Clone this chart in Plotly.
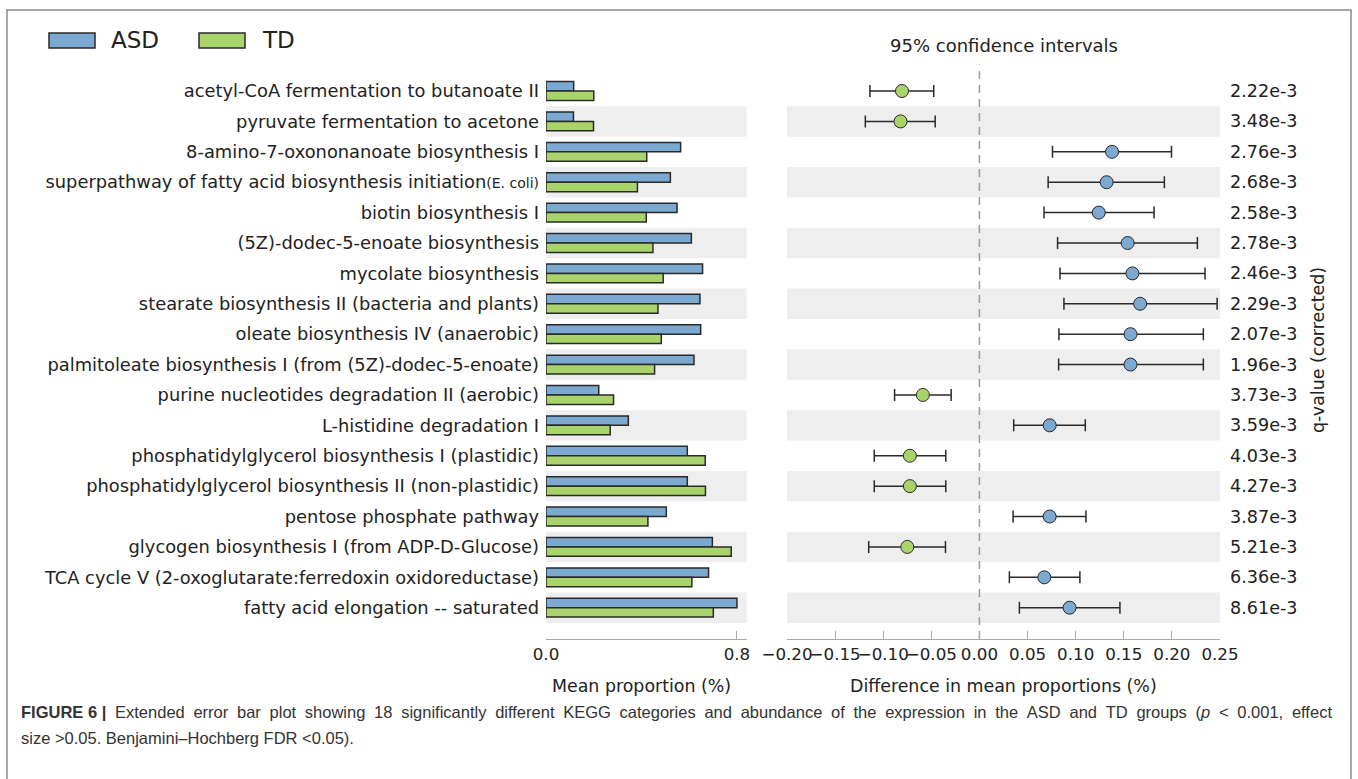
import plotly.graph_objects as go
import numpy as np

categories = [
    "acetyl-CoA fermentation to butanoate II",
    "pyruvate fermentation to acetone",
    "8-amino-7-oxononanoate biosynthesis I",
    "superpathway of fatty acid biosynthesis initiation<span style='font-size:14px'>(E. coli)</span>",
    "biotin biosynthesis I",
    "(5Z)-dodec-5-enoate biosynthesis",
    "mycolate biosynthesis",
    "stearate biosynthesis II (bacteria and plants)",
    "oleate biosynthesis IV (anaerobic)",
    "palmitoleate biosynthesis I (from (5Z)-dodec-5-enoate)",
    "purine nucleotides degradation II (aerobic)",
    "L-histidine degradation I",
    "phosphatidylglycerol biosynthesis I (plastidic)",
    "phosphatidylglycerol biosynthesis II (non-plastidic)",
    "pentose phosphate pathway",
    "glycogen biosynthesis I (from ADP-D-Glucose)",
    "TCA cycle V (2-oxoglutarate:ferredoxin oxidoreductase)",
    "fatty acid elongation -- saturated",
]
asd_mean = [0.116, 0.115, 0.564, 0.521, 0.549, 0.609, 0.656, 0.645, 0.648, 0.620,
            0.221, 0.345, 0.592, 0.592, 0.504, 0.697, 0.681, 0.800]
td_mean = [0.200, 0.199, 0.422, 0.383, 0.420, 0.448, 0.491, 0.469, 0.483, 0.455,
           0.283, 0.269, 0.667, 0.668, 0.427, 0.776, 0.611, 0.701]
diff_mean = [-0.0805, -0.082, 0.1378, 0.1322, 0.124, 0.154, 0.159, 0.167, 0.157, 0.157,
             -0.0588, 0.073, -0.0723, -0.0723, 0.073, -0.075, 0.0674, 0.0937]
ci_low = [-0.1138, -0.1186, 0.0759, 0.0714, 0.0671, 0.0812, 0.0837, 0.0878, 0.0826, 0.0823,
          -0.0882, 0.0356, -0.1093, -0.1093, 0.035, -0.1151, 0.0311, 0.0415]
ci_high = [-0.0475, -0.046, 0.1996, 0.1922, 0.1815, 0.2265, 0.2344, 0.247, 0.2327, 0.2327,
           -0.0294, 0.110, -0.035, -0.035, 0.1107, -0.0353, 0.1044, 0.146]
q_values = ["2.22e-3", "3.48e-3", "2.76e-3", "2.68e-3", "2.58e-3", "2.78e-3", "2.46e-3",
            "2.29e-3", "2.07e-3", "1.96e-3", "3.73e-3", "3.59e-3", "4.03e-3", "4.27e-3",
            "3.87e-3", "5.21e-3", "6.36e-3", "8.61e-3"]
group_names = ["ASD", "TD"]

W, H = 1358, 779
def px(x):
    return x / W
def py(y):
    return 1 - y / H

BLUE = "#7BA9CF"
GREEN = "#A9D46B"
EDGE = "#2a2a2a"
FONT = "DejaVu Sans"
TXT = "#222222"
LBL = 17.85
AXT = 17.4

idx = np.arange(len(categories))
diff = np.array(diff_mean)
lo = np.array(ci_low)
hi = np.array(ci_high)

fig = go.Figure()

# bars
fig.add_trace(go.Bar(x=asd_mean, y=idx, orientation="h", width=0.31, offset=-0.31,
                     marker=dict(color=BLUE, line=dict(color=EDGE, width=1.5)),
                     xaxis="x", yaxis="y", showlegend=False, name=group_names[0]))
fig.add_trace(go.Bar(x=td_mean, y=idx, orientation="h", width=0.31, offset=0.0,
                     marker=dict(color=GREEN, line=dict(color=EDGE, width=1.5)),
                     xaxis="x", yaxis="y", showlegend=False, name=group_names[1]))

# CI points
for mask, col, nm in [(diff > 0, BLUE, group_names[0]), (diff < 0, GREEN, group_names[1])]:
    fig.add_trace(go.Scatter(
        x=diff[mask], y=idx[mask], mode="markers", xaxis="x2", yaxis="y2",
        marker=dict(size=13, color=col, line=dict(color=EDGE, width=1)),
        error_x=dict(type="data", symmetric=False, array=(hi - diff)[mask],
                     arrayminus=(diff - lo)[mask], color=EDGE, thickness=1.5, width=6),
        showlegend=False, name=nm))

shapes = []
for i in idx:
    if i % 2 == 1:
        for xr, yr in [("x domain", "y"), ("x2 domain", "y2")]:
            shapes.append(dict(type="rect", xref=xr, yref=yr, x0=0, x1=1, y0=i - 0.5, y1=i + 0.5,
                               fillcolor="#EEEEEE", line=dict(width=0), layer="below"))
# zero dashed line
shapes.append(dict(type="line", xref="x2", yref="y2 domain", x0=0, x1=0, y0=0, y1=1,
                   line=dict(color="#9a9a9a", width=1.5, dash="8px,6px"), layer="below"))
# legend boxes
shapes.append(dict(type="rect", xref="paper", yref="paper", x0=px(49), x1=px(95), y0=py(48), y1=py(33),
                   fillcolor=BLUE, line=dict(color=EDGE, width=1.5)))
shapes.append(dict(type="rect", xref="paper", yref="paper", x0=px(199), x1=px(245), y0=py(48), y1=py(33),
                   fillcolor=GREEN, line=dict(color=EDGE, width=1.5)))
# outer border
shapes.append(dict(type="rect", xref="paper", yref="paper", x0=px(7), x1=px(1351), y0=-0.02, y1=py(10),
                   line=dict(color="#8a8a8a", width=1.5), fillcolor="rgba(0,0,0,0)"))

ann = []
ann.append(dict(text=group_names[0], x=px(109), y=py(40), xref="paper", yref="paper",
                xanchor="left", yanchor="middle", showarrow=False, font=dict(family=FONT, size=23, color=TXT)))
ann.append(dict(text=group_names[1], x=px(260), y=py(40), xref="paper", yref="paper",
                xanchor="left", yanchor="middle", showarrow=False, font=dict(family=FONT, size=23, color=TXT)))
ann.append(dict(text="95% confidence intervals", x=px(1004), y=py(45), xref="paper", yref="paper",
                xanchor="center", yanchor="middle", showarrow=False, font=dict(family=FONT, size=18, color=TXT)))
for i, q in zip(idx, q_values):
    ann.append(dict(text=q, x=px(1228), y=int(i), xref="paper", yref="y2", xanchor="left", yanchor="middle",
                    showarrow=False, font=dict(family=FONT, size=17.6, color=TXT)))
ann.append(dict(text="q-value (corrected)", x=px(1318), y=py(350), xref="paper", yref="paper",
                textangle=-90, xanchor="center", yanchor="middle", showarrow=False,
                font=dict(family=FONT, size=17.4, color=TXT)))
ann.append(dict(text="Mean proportion (%)", x=px(641), y=py(686), xref="paper", yref="paper",
                xanchor="center", yanchor="middle", showarrow=False, font=dict(family=FONT, size=AXT, color=TXT)))
ann.append(dict(text="Difference in mean proportions (%)", x=px(1003), y=py(686), xref="paper", yref="paper",
                xanchor="center", yanchor="middle", showarrow=False, font=dict(family=FONT, size=AXT, color=TXT)))

CAP = "Liberation Sans"
SP = "\u2005"  # extra word spacing to mimic the justified first caption line
line1_words = ["<b>FIGURE 6 |</b>", "Extended", "error", "bar", "plot", "showing", "18", "significantly",
               "different", "KEGG", "categories", "and", "abundance", "of", "the", "expression", "in",
               "the", "ASD", "and", "TD", "groups", "(<i>p</i>", "&lt;", "0.001,", "effect"]
line1 = (" " + SP).join(line1_words)
ann.append(dict(text=line1, x=px(19), y=py(712), xref="paper", yref="paper", xanchor="left", yanchor="middle",
                showarrow=False, font=dict(family=CAP, size=16.5, color="#333333")))
ann.append(dict(text="size &gt;0.05. Benjamini–Hochberg FDR &lt;0.05).",
                x=px(19), y=py(738), xref="paper", yref="paper", xanchor="left", yanchor="middle",
                showarrow=False, font=dict(family=CAP, size=16.5, color="#333333")))

ydom = [py(639), py(64.6)]
yrange = [18.03, -0.87]
axis_common = dict(showgrid=False, zeroline=False, showline=True, linecolor="#a8a8a8", linewidth=1,
                   ticks="inside", ticklen=8, tickcolor="#a8a8a8", tickwidth=1, automargin=False,
                   tickangle=0, tickfont=dict(family=FONT, size=16.7, color=TXT))

fig.update_layout(
    width=W, height=H, autosize=False,
    margin=dict(l=0, r=0, t=0, b=0),
    paper_bgcolor="white", plot_bgcolor="rgba(0,0,0,0)",
    barmode="overlay",
    xaxis=dict(domain=[px(546), px(746.5)], range=[0, 0.84], tickvals=[0, 0.8], ticktext=["0.0", "0.8"],
               anchor="y", **axis_common),
    yaxis=dict(domain=ydom, range=yrange, tickvals=idx.tolist(), ticktext=categories, showgrid=False,
               zeroline=False, showline=False, ticks="", ticklabelstandoff=6, automargin=False,
               tickfont=dict(family=FONT, size=LBL, color=TXT), anchor="x"),
    xaxis2=dict(domain=[px(787), px(1220)], range=[-0.2, 0.25], tick0=-0.2, dtick=0.05, tickformat=".2f",
                anchor="y2", **axis_common),
    yaxis2=dict(domain=ydom, range=yrange, showticklabels=False, showgrid=False, zeroline=False,
                showline=False, ticks="", anchor="x2", automargin=False),
    shapes=shapes, annotations=ann,
)

fig.write_html("out.html", config={"displayModeBar": False},
               post_script="document.body.style.margin='0';document.body.style.padding='0';")
